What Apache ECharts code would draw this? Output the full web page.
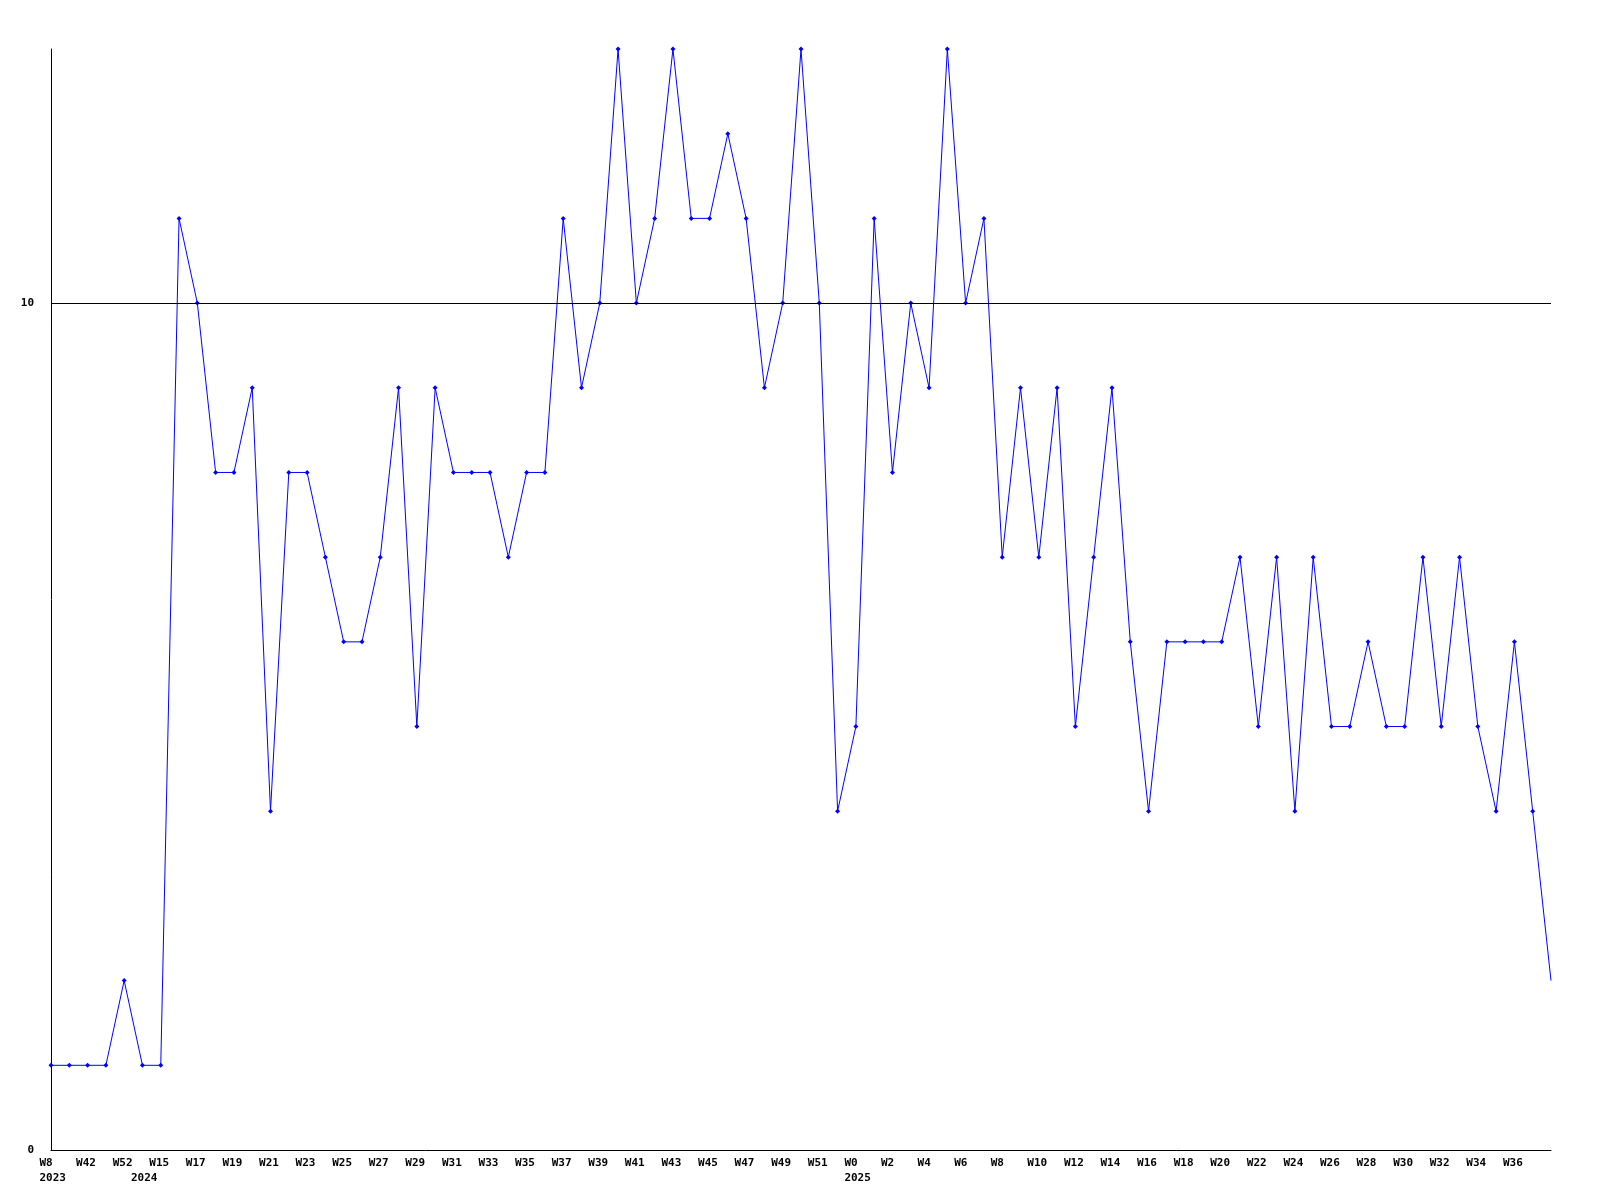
<!DOCTYPE html>
<html>
<head>
<meta charset="utf-8">
<script src="https://cdn.jsdelivr.net/npm/echarts@6/dist/echarts.min.js"></script>
<style>html,body{margin:0;padding:0;background:#fff}#c{width:1600px;height:1200px}</style>
</head>
<body>
<div id="c"></div>
<script>
const weeks = ['W8','W9','W42','W43','W52','W1','W15','W16','W17','W18','W19','W20','W21','W22','W23','W24','W25','W26','W27','W28','W29','W30','W31','W32','W33','W34','W35','W36','W37','W38','W39','W40','W41','W42','W43','W44','W45','W46','W47','W48','W49','W50','W51','W52','W0','W1','W2','W3','W4','W5','W6','W7','W8','W9','W10','W11','W12','W13','W14','W15','W16','W17','W18','W19','W20','W21','W22','W23','W24','W25','W26','W27','W28','W29','W30','W31','W32','W33','W34','W35','W36','W37','W38'];
const yearMarkIndex = [0, 5, 44];
const yearMarkLabel = ['2023', '2024', '2025'];
const values = [1,1,1,1,2,1,1,11,10,8,8,9,4,8,8,7,6,6,7,9,5,9,8,8,8,7,8,8,11,9,10,13,10,11,13,11,11,12,11,9,10,13,10,4,5,11,8,10,9,13,10,11,7,9,7,9,5,7,9,6,4,6,6,6,6,7,5,7,4,7,5,5,6,5,5,7,5,7,5,4,6,4,2];
const yTickLabels = ['0', '10'];
const refLineValue = 10;

const chart = echarts.init(document.getElementById('c'));
const font = 'DejaVu Sans Mono';
const seriesData = values.map((v, i) => i === values.length - 1 ? {value: v, symbol: 'none'} : v);
chart.setOption({
  animation: false,
  backgroundColor: '#ffffff',
  grid: {left: 51, right: 49, top: 49, bottom: 50, containLabel: false},
  xAxis: {
    type: 'category',
    data: weeks,
    boundaryGap: false,
    axisLine: {show: true, lineStyle: {color: '#000', width: 1}},
    axisTick: {show: false},
    splitLine: {show: false},
    axisLabel: {
      interval: 0,
      hideOverlap: false,
      margin: 6,
      formatter: function (val, idx) {
        const w = (idx % 2 === 0 && idx <= 80) ? val : ' ';
        const k = yearMarkIndex.indexOf(idx);
        const y = k >= 0 ? yearMarkLabel[k] : ' ';
        return '{w|' + w + '}\n{y|' + y + '}';
      },
      rich: {
        w: {width: 23, align: 'left', fontFamily: font, fontWeight: 'bold', fontSize: 11, color: '#000', lineHeight: 15},
        y: {width: 23, align: 'left', fontFamily: font, fontWeight: 'bold', fontSize: 11, color: '#000', lineHeight: 15}
      }
    }
  },
  yAxis: {
    type: 'value',
    min: 0,
    max: 13,
    interval: 10,
    axisLine: {show: true, lineStyle: {color: '#000', width: 1}},
    axisTick: {show: false},
    splitLine: {show: false},
    axisLabel: {
      margin: 17,
      fontFamily: font,
      fontWeight: 'bold',
      fontSize: 11,
      color: '#000',
      formatter: function (v) {
        const s = String(v);
        return yTickLabels.indexOf(s) >= 0 ? s : '';
      }
    }
  },
  series: [{
    type: 'line',
    data: seriesData,
    symbol: 'diamond',
    symbolSize: 5,
    showAllSymbol: true,
    lineStyle: {color: '#0000ff', width: 1},
    itemStyle: {color: '#0000ff'},
    markLine: {
      silent: true,
      symbol: 'none',
      label: {show: false},
      lineStyle: {color: '#000', width: 1, type: 'solid'},
      data: [{yAxis: refLineValue}]
    }
  }]
});
</script>
</body>
</html>
